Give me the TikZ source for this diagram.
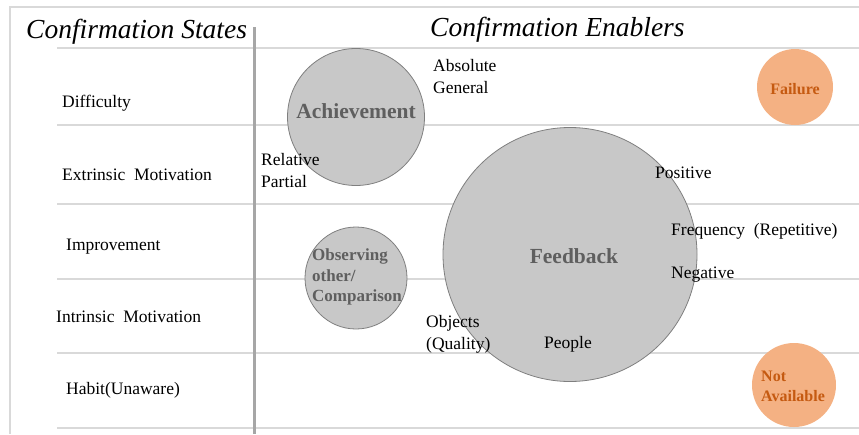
\documentclass[tikz,border=0pt]{standalone}
\usepackage{fontspec}
\setmainfont{Liberation Serif}
\definecolor{rowline}{HTML}{D9D9D9}
\definecolor{midline}{HTML}{A6A6A6}
\definecolor{circfill}{HTML}{C8C8C8}
\definecolor{circdraw}{HTML}{7F7F7F}
\definecolor{circtext}{HTML}{5F5F5F}
\definecolor{orfill}{HTML}{F4B183}
\definecolor{ortext}{HTML}{C55A11}
\tikzset{
  grid/.style={draw=rowline, line width=1.2pt},
  divider/.style={draw=midline, line width=3pt},
  title/.style={font=\fontsize{27.5}{31}\selectfont\itshape, inner sep=0pt, anchor=west},
  lab/.style={font=\fontsize{17.5}{22}\selectfont, inner sep=0pt, anchor=west, align=left},
  bigc/.style={circle, fill=circfill, draw=circdraw, line width=0.8pt, inner sep=0pt},
  orc/.style={circle, fill=orfill, inner sep=0pt},
  ctext/.style={font=\fontsize{21.5}{25}\selectfont\bfseries, text=circtext, inner sep=0pt},
  ctexts/.style={font=\fontsize{17}{20.5}\selectfont\bfseries, text=circtext, inner sep=0pt, align=left},
  otext/.style={font=\fontsize{16}{20}\selectfont\bfseries, text=ortext, inner sep=0pt, align=left},
}
\begin{document}
\begin{tikzpicture}[x=1pt,y=-1pt]
\useasboundingbox (0,0) rectangle (859,434);
% frame and grid
\draw[grid] (10,434) -- (10,7) -- (859,7);
\foreach \yy in {48,125,204,279,353,428} \draw[grid] (57,\yy) -- (859,\yy);
\draw[divider] (254,27) -- (254,434);
% titles
\node[title] (tstates) at (26,32) {Confirmation States};
\node[title] (tenablers) at (430,30) {Confirmation Enablers};
% row labels
\node[lab] (r1) at (62,103.5) {Difficulty};
\node[lab] (r2) at (62,175) {Extrinsic\ \ Motivation};
\node[lab] (r3) at (66,247) {Improvement};
\node[lab] (r4) at (56,317) {Intrinsic\ \ Motivation};
\node[lab] (r5) at (66,390) {Habit(Unaware)};
% circles
\node[bigc, minimum size=137pt] (ach) at (356,117) {};
\node[bigc, minimum size=254pt] (fb) at (570,254.5) {};
\node[bigc, minimum size=102pt] (obs) at (356,278) {};
\node[orc, minimum size=76pt] (fail) at (795,87) {};
\node[orc, minimum size=84pt] (na) at (794,385) {};
% circle texts
\node[ctext] (achT) at (356,111) {Achievement};
\node[ctext] (fbT) at (574,256) {Feedback};
\node[ctexts, anchor=west] (obsT) at (312,277) {Observing\\other/\\Comparison};
\node[otext] (failT) at (795,89) {Failure};
\node[otext, anchor=west] (naT) at (761,386) {Not\\Available};
% enabler labels
\node[lab] (abs) at (433,77) {Absolute\\General};
\node[lab] (rel) at (261,171) {Relative\\Partial};
\node[lab] (pos) at (655,173) {Positive};
\node[lab] (freq) at (671,231) {Frequency\ \ (Repetitive)};
\node[lab] (neg) at (671,275) {Negative};
\node[lab] (obj) at (426,334) {Objects\\(Quality)};
\node[lab] (ppl) at (544,344) {People};
\end{tikzpicture}
\end{document}
